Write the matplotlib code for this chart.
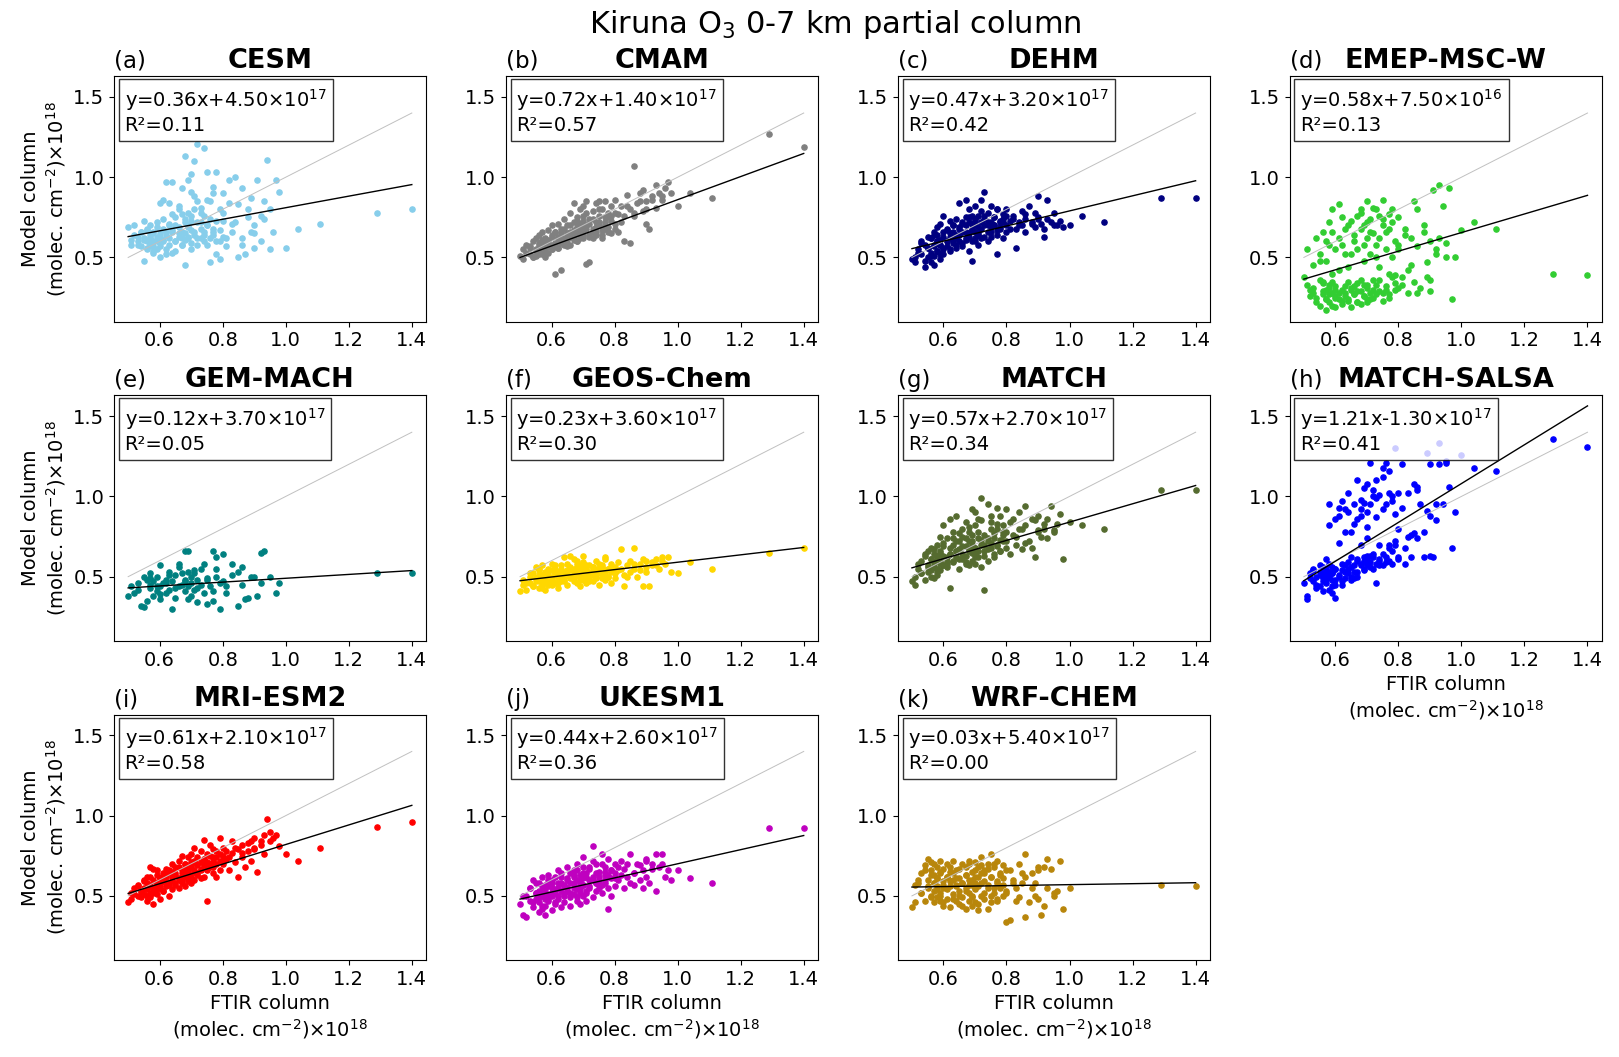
import numpy as np
import matplotlib.pyplot as plt

nan = float("nan")

# FTIR partial columns (x 1e18 molec cm-2), shared by all models
ftir = [
    0.50, 0.51, 0.51, 0.52, 0.53, 0.53, 0.54, 0.54, 0.55, 0.55,
    0.55, 0.56, 0.56, 0.56, 0.57, 0.57, 0.57, 0.57, 0.58, 0.58,
    0.58, 0.58, 0.59, 0.59, 0.59, 0.59, 0.60, 0.60, 0.60, 0.60,
    0.61, 0.61, 0.61, 0.62, 0.62, 0.62, 0.63, 0.63, 0.63, 0.64,
    0.64, 0.64, 0.65, 0.65, 0.65, 0.66, 0.66, 0.66, 0.67, 0.67,
    0.67, 0.67, 0.68, 0.68, 0.68, 0.68, 0.69, 0.69, 0.69, 0.69,
    0.70, 0.70, 0.70, 0.70, 0.70, 0.71, 0.71, 0.71, 0.72, 0.72,
    0.72, 0.73, 0.73, 0.73, 0.74, 0.74, 0.74, 0.75, 0.75, 0.75,
    0.76, 0.76, 0.77, 0.77, 0.77, 0.78, 0.78, 0.79, 0.79, 0.79,
    0.80, 0.80, 0.80, 0.81, 0.82, 0.83, 0.83, 0.84, 0.85, 0.85,
    0.86, 0.86, 0.87, 0.88, 0.89, 0.89, 0.90, 0.90, 0.91, 0.92,
    0.93, 0.93, 0.94, 0.95, 0.96, 0.97, 0.98, 1.00, 1.04, 1.11,
    1.29, 1.40,
    0.52, 0.53, 0.54, 0.55, 0.56, 0.56, 0.57, 0.57, 0.58, 0.58,
    0.59, 0.59, 0.60, 0.60, 0.61, 0.61, 0.62, 0.62, 0.63, 0.63,
    0.64, 0.64, 0.65, 0.65, 0.66, 0.66, 0.67, 0.67, 0.68, 0.68,
    0.69, 0.69, 0.70, 0.70, 0.71, 0.71, 0.72, 0.72, 0.73, 0.73,
    0.74, 0.74, 0.75, 0.75, 0.76, 0.76, 0.77, 0.77, 0.78, 0.78,
    0.79, 0.80, 0.81, 0.82, 0.84, 0.86, 0.88, 0.90, 0.92, 0.95,
]

cesm = [
    0.69, 0.61, 0.58, 0.70, 0.63, 0.60, 0.66, 0.57, 0.48, 0.62,
    0.73, 0.60, 0.55, 0.67, 0.62, 0.58, 0.70, 0.64, 0.53, 0.60,
    0.66, 0.57, 0.63, 0.60, 0.72, 0.55, 0.50, 0.84, 0.65, 0.59,
    0.86, 0.61, 0.68, 0.97, 0.55, 0.64, 0.70, 0.58, 0.84, 0.53,
    0.97, 0.66, 0.60, 0.75, 0.54, 0.80, 0.65, 0.69, 0.77, 0.62,
    0.93, 0.58, 0.72, 0.65, 1.13, 0.45, 0.98, 0.62, 0.78, 0.70,
    0.55, 0.91, 0.67, 0.73, 1.02, 0.64, 0.80, 1.10, 0.58, 0.85,
    1.21, 0.72, 0.62, 0.78, 1.18, 0.66, 0.60, 1.03, 0.86, 0.70,
    0.47, 0.74, 0.90, 0.64, 0.68, 1.03, 0.52, 0.60, 0.80, 0.49,
    0.90, 0.63, 0.73, 0.57, 0.98, 0.71, 0.66, 1.00, 0.50, 0.83,
    0.62, 0.93, 0.52, 0.75, 0.87, 0.66, 0.65, 0.56, 0.98, 0.60,
    0.85, 0.74, 1.11, 0.55, 0.66, 0.98, 0.91, 0.56, 0.68, 0.71,
    0.78, 0.80,
    0.64, 0.58, 0.66, 0.61, 0.56, 0.68, 0.62, 0.59, 0.65, 0.54,
    0.61, 0.69, 0.57, 0.63, 0.74, 0.60, 0.66, 0.52, 0.71, 0.62,
    0.67, 0.77, 0.60, 0.70, 0.63, 0.82, 0.58, 0.66, 0.74, 0.61,
    0.69, 0.63, 0.76, 0.59, 0.88, 0.66, 0.72, 0.62, 0.81, 0.68,
    0.64, 0.76, 0.58, 0.70, 0.85, 0.62, 0.66, 0.94, 0.60, 0.73,
    0.67, 0.78, 0.62, 0.84, 0.72, 0.58, 0.80, 0.70, 0.76, 0.80,
]

cmam = [
    0.51, 0.55, 0.49, 0.58, 0.52, 0.56, 0.60, 0.50, 0.54, 0.62,
    0.51, 0.58, 0.53, 0.64, 0.56, 0.52, 0.60, 0.66, 0.55, 0.59,
    0.50, 0.62, 0.57, 0.53, 0.67, 0.60, 0.55, 0.64, 0.58, 0.70,
    0.59, 0.40, 0.66, 0.63, 0.56, 0.71, 0.60, 0.42, 0.68, 0.62,
    0.58, 0.74, 0.65, 0.61, 0.70, 0.63, 0.78, 0.58, 0.67, 0.72,
    0.84, 0.62, 0.69, 0.75, 0.60, 0.65, 0.71, 0.80, 0.64, 0.68,
    0.73, 0.62, 0.82, 0.67, 0.76, 0.46, 0.70, 0.85, 0.64, 0.74,
    0.47, 0.79, 0.68, 0.62, 0.84, 0.72, 0.66, 0.76, 0.85, 0.70,
    0.64, 0.80, 0.72, 0.68, 0.85, 0.75, 0.69, 0.82, 0.65, 0.76,
    0.71, 0.86, 0.78, 0.66, 0.82, 0.76, 0.60, 0.89, 0.80, 0.59,
    0.78, 1.07, 0.84, 0.90, 0.79, 0.92, 0.71, 0.85, 0.68, 0.88,
    0.95, 0.81, 0.90, 0.86, 0.93, 0.97, 0.90, 0.82, 0.90, 0.87,
    1.27, 1.19,
    0.53, 0.57, 0.50, 0.55, 0.59, 0.52, 0.56, 0.61, 0.54, 0.58,
    0.57, 0.61, 0.55, 0.63, 0.58, 0.66, 0.56, 0.62, 0.59, 0.65,
    0.60, 0.68, 0.62, 0.57, 0.66, 0.70, 0.61, 0.64, 0.73, 0.60,
    0.66, 0.62, 0.70, 0.64, 0.68, 0.78, 0.63, 0.71, 0.66, 0.74,
    0.69, 0.64, 0.72, 0.80, 0.67, 0.62, 0.75, 0.70, 0.66, 0.78,
    0.73, 0.68, 0.77, 0.72, 0.82, 0.76, 0.85, 0.80, 0.86, 0.88,
]

dehm = [
    0.49, 0.50, 0.47, 0.55, 0.60, 0.52, 0.44, 0.58, 0.50, 0.63,
    0.56, 0.47, 0.62, 0.53, 0.45, 0.66, 0.58, 0.51, 0.60, 0.69,
    0.54, 0.64, 0.49, 0.58, 0.71, 0.61, 0.55, 0.66, 0.52, 0.76,
    0.60, 0.68, 0.57, 0.63, 0.73, 0.55, 0.66, 0.61, 0.70, 0.58,
    0.64, 0.74, 0.60, 0.68, 0.84, 0.57, 0.71, 0.66, 0.86, 0.62,
    0.70, 0.75, 0.54, 0.65, 0.72, 0.80, 0.60, 0.68, 0.76, 0.48,
    0.66, 0.73, 0.62, 0.82, 0.70, 0.58, 0.76, 0.64, 0.72, 0.86,
    0.68, 0.74, 0.63, 0.91, 0.70, 0.60, 0.78, 0.66, 0.72, 0.82,
    0.70, 0.75, 0.64, 0.80, 0.52, 0.72, 0.68, 0.77, 0.62, 0.74,
    0.70, 0.80, 0.66, 0.73, 0.76, 0.68, 0.56, 0.72, 0.79, 0.70,
    0.74, 0.66, 0.82, 0.72, 0.78, 0.69, 0.88, 0.74, 0.71, 0.63,
    0.86, 0.74, 0.72, 0.78, 0.70, 0.73, 0.69, 0.70, 0.76, 0.72,
    0.87, 0.87,
    0.53, 0.59, 0.48, 0.56, 0.62, 0.51, 0.57, 0.64, 0.54, 0.60,
    0.58, 0.52, 0.63, 0.56, 0.67, 0.60, 0.54, 0.65, 0.59, 0.70,
    0.62, 0.56, 0.69, 0.64, 0.59, 0.72, 0.66, 0.61, 0.75, 0.63,
    0.67, 0.71, 0.60, 0.74, 0.65, 0.69, 0.79, 0.62, 0.70, 0.76,
    0.66, 0.72, 0.69, 0.63, 0.75, 0.70, 0.80, 0.67, 0.73, 0.69,
    0.72, 0.76, 0.68, 0.74, 0.70, 0.77, 0.71, 0.75, 0.68, 0.70,
]

emep = [
    0.38, 0.33, 0.55, 0.30, 0.28, 0.45, 0.25, 0.62, 0.36, 0.20,
    0.52, 0.27, 0.34, 0.66, 0.17, 0.30, 0.48, 0.24, 0.58, 0.31,
    0.22, 0.72, 0.28, 0.40, 0.35, 0.80, 0.26, 0.55, 0.19, 0.32,
    0.83, 0.24, 0.62, 0.30, 0.75, 0.21, 0.52, 0.28, 0.68, 0.35,
    0.23, 0.44, 0.30, 0.73, 0.19, 0.27, 0.60, 0.32, 0.76, 0.22,
    0.55, 0.29, 0.68, 0.36, 0.21, 0.78, 0.26, 0.48, 0.33, 0.70,
    0.24, 0.62, 0.31, 0.85, 0.22, 0.52, 0.28, 0.74, 0.36, 0.65,
    0.25, 0.80, 0.33, 0.58, 0.29, 0.76, 0.44, 0.23, 0.70, 0.86,
    0.30, 0.66, 0.40, 0.77, 0.27, 0.50, 0.72, 0.34, 0.60, 0.39,
    0.75, 0.31, 0.55, 0.38, 0.68, 0.42, 0.28, 0.62, 0.85, 0.35,
    0.57, 0.80, 0.31, 0.66, 0.47, 0.38, 0.60, 0.29, 0.92, 0.55,
    0.95, 0.62, 0.82, 0.50, 0.93, 0.24, 0.50, 0.67, 0.72, 0.68,
    0.40, 0.39,
    0.26, 0.31, 0.22, 0.48, 0.29, 0.35, 0.24, 0.60, 0.27, 0.33,
    0.20, 0.66, 0.30, 0.25, 0.42, 0.28, 0.23, 0.58, 0.32, 0.26,
    0.70, 0.24, 0.31, 0.52, 0.27, 0.64, 0.22, 0.34, 0.80, 0.29,
    0.26, 0.58, 0.33, 0.72, 0.24, 0.66, 0.30, 0.81, 0.27, 0.50,
    0.36, 0.62, 0.28, 0.74, 0.32, 0.55, 0.25, 0.68, 0.38, 0.80,
    0.30, 0.58, 0.33, 0.64, 0.45, 0.28, 0.70, 0.36, 0.52, 0.59,
]

gem_mach = [
    0.38, nan, 0.44, 0.40, nan, 0.46, nan, 0.32, 0.50, nan,
    0.31, nan, 0.48, nan, 0.43, 0.52, nan, 0.45, nan, 0.38,
    nan, 0.47, 0.41, nan, 0.50, nan, 0.36, nan, 0.44, 0.57,
    nan, 0.46, nan, 0.40, 0.48, nan, 0.42, 0.53, nan, 0.30,
    0.47, nan, 0.51, 0.37, nan, 0.44, nan, 0.56, 0.45, nan,
    0.52, nan, 0.66, 0.41, nan, 0.48, 0.66, nan, 0.53, 0.44,
    nan, 0.50, 0.38, nan, 0.46, 0.52, nan, 0.42, 0.48, nan,
    0.34, nan, 0.55, 0.45, nan, 0.40, nan, 0.49, 0.33, nan,
    0.44, nan, 0.66, 0.35, nan, 0.50, 0.62, nan, 0.46, 0.30,
    0.64, nan, 0.47, 0.40, nan, 0.51, 0.58, nan, 0.53, 0.32,
    0.45, nan, 0.36, 0.37, nan, 0.50, nan, 0.50, 0.38, 0.65,
    nan, 0.66, nan, 0.50, nan, 0.40, 0.46, nan, nan, nan,
    0.52, 0.52,
    nan, 0.42, nan, nan, 0.35, nan, nan, 0.49, nan, nan,
    0.44, nan, nan, 0.39, nan, nan, 0.46, nan, nan, 0.51,
    nan, nan, 0.43, nan, nan, 0.58, nan, nan, 0.47, nan,
    nan, 0.36, nan, nan, 0.54, nan, nan, 0.43, nan, nan,
    0.58, nan, nan, 0.48, nan, nan, 0.41, nan, nan, 0.55,
    nan, nan, 0.44, nan, nan, 0.56, nan, nan, 0.46, nan,
]

geos_chem = [
    0.41, 0.45, 0.48, 0.42, 0.50, 0.46, 0.52, 0.44, 0.49, 0.56,
    0.47, 0.51, 0.43, 0.54, 0.48, 0.57, 0.45, 0.50, 0.52, 0.46,
    0.49, 0.42, 0.53, 0.47, 0.51, 0.55, 0.45, 0.50, 0.58, 0.48,
    0.52, 0.46, 0.55, 0.49, 0.43, 0.53, 0.50, 0.57, 0.47, 0.52,
    0.62, 0.48, 0.54, 0.51, 0.45, 0.56, 0.50, 0.63, 0.53, 0.47,
    0.55, 0.50, 0.58, 0.46, 0.53, 0.60, 0.49, 0.54, 0.44, 0.57,
    0.51, 0.56, 0.48, 0.53, 0.59, 0.50, 0.55, 0.46, 0.52, 0.57,
    0.50, 0.54, 0.47, 0.56, 0.52, 0.60, 0.49, 0.53, 0.45, 0.55,
    0.51, 0.57, 0.48, 0.54, 0.62, 0.50, 0.55, 0.46, 0.53, 0.58,
    0.52, 0.49, 0.56, 0.54, 0.67, 0.51, 0.44, 0.57, 0.53, 0.60,
    0.68, 0.55, 0.50, 0.58, 0.44, 0.61, 0.56, 0.53, 0.44, 0.59,
    0.57, 0.61, 0.55, 0.60, 0.58, 0.62, 0.53, 0.52, 0.59, 0.55,
    0.65, 0.68,
    0.46, 0.52, 0.44, 0.49, 0.55, 0.47, 0.51, 0.43, 0.53, 0.48,
    0.50, 0.45, 0.54, 0.48, 0.52, 0.57, 0.46, 0.51, 0.55, 0.49,
    0.53, 0.47, 0.51, 0.58, 0.49, 0.54, 0.61, 0.50, 0.56, 0.52,
    0.48, 0.55, 0.52, 0.63, 0.50, 0.57, 0.53, 0.47, 0.56, 0.51,
    0.54, 0.50, 0.58, 0.53, 0.49, 0.56, 0.61, 0.52, 0.55, 0.50,
    0.56, 0.53, 0.59, 0.55, 0.50, 0.58, 0.54, 0.60, 0.57, 0.62,
]

match = [
    0.47, 0.50, 0.45, 0.55, 0.60, 0.52, 0.63, 0.48, 0.57, 0.66,
    0.53, 0.61, 0.50, 0.68, 0.56, 0.64, 0.49, 0.59, 0.70, 0.55,
    0.62, 0.51, 0.66, 0.58, 0.75, 0.54, 0.63, 0.57, 0.69, 0.82,
    0.60, 0.74, 0.56, 0.86, 0.64, 0.43, 0.70, 0.59, 0.78, 0.66,
    0.88, 0.62, 0.72, 0.55, 0.67, 0.80, 0.61, 0.75, 0.58, 0.69,
    0.84, 0.63, 0.72, 0.57, 0.78, 0.66, 0.92, 0.60, 0.70, 0.76,
    0.64, 0.82, 0.58, 0.90, 0.68, 0.74, 0.62, 0.86, 0.70, 0.56,
    0.99, 0.42, 0.76, 0.66, 0.95, 0.72, 0.60, 0.84, 0.68, 0.88,
    0.74, 0.62, 0.93, 0.70, 0.80, 0.66, 0.88, 0.72, 0.76, 0.82,
    0.92, 0.68, 0.78, 0.64, 0.86, 0.75, 0.70, 0.90, 0.80, 0.67,
    0.82, 0.94, 0.72, 0.68, 0.85, 0.62, 0.78, 0.88, 0.75, 0.80,
    0.86, 0.74, 0.94, 0.79, 0.83, 0.89, 0.61, 0.84, 0.82, 0.80,
    1.04, 1.04,
    0.58, 0.52, 0.64, 0.56, 0.61, 0.54, 0.67, 0.59, 0.63, 0.53,
    0.60, 0.65, 0.57, 0.71, 0.62, 0.58, 0.68, 0.64, 0.74, 0.60,
    0.66, 0.72, 0.61, 0.77, 0.64, 0.69, 0.59, 0.74, 0.67, 0.81,
    0.65, 0.72, 0.68, 0.62, 0.78, 0.66, 0.73, 0.85, 0.63, 0.70,
    0.74, 0.67, 0.80, 0.71, 0.64, 0.77, 0.69, 0.83, 0.73, 0.66,
    0.78, 0.72, 0.84, 0.76, 0.80, 0.71, 0.86, 0.79, 0.83, 0.78,
]

match_salsa = [
    0.46, 0.36, 0.38, 0.52, 0.47, 0.55, 0.43, 0.50, 0.53, 0.44,
    0.57, 0.49, 0.52, 0.41, 0.55, 0.48, 0.61, 0.46, 0.82, 0.53,
    0.95, 0.50, 0.56, 0.44, 0.52, 0.40, 0.48, 0.86, 0.37, 0.55,
    0.93, 0.51, 0.71, 0.45, 0.58, 0.97, 0.53, 0.78, 0.49, 1.02,
    0.55, 0.90, 0.50, 0.62, 0.78, 0.57, 0.95, 0.49, 1.10, 0.60,
    0.86, 0.53, 0.92, 0.58, 0.70, 0.88, 0.55, 1.05, 0.62, 0.96,
    0.57, 0.81, 1.08, 0.60, 0.74, 1.21, 0.63, 0.95, 0.55, 1.00,
    0.64, 1.10, 0.46, 0.87, 0.60, 1.01, 0.70, 1.18, 0.57, 0.92,
    1.21, 0.62, 1.02, 0.68, 1.16, 0.58, 0.97, 1.30, 0.70, 0.89,
    1.02, 0.61, 0.80, 1.20, 0.58, 0.75, 1.02, 0.62, 1.08, 0.77,
    1.04, 0.74, 0.95, 0.62, 1.27, 0.91, 0.88, 1.20, 0.62, 0.85,
    1.33, 1.20, 0.95, 1.21, 1.06, 0.68, 0.90, 1.26, 1.18, 1.16,
    1.36, 1.31,
    0.49, 0.54, 0.45, 0.51, 0.56, 0.47, 0.53, 0.50, 0.42, 0.58,
    0.52, 0.48, 0.55, 0.45, 0.50, 0.88, 0.54, 0.47, 0.57, 0.92,
    0.52, 0.59, 0.48, 0.56, 0.83, 0.53, 0.61, 0.50, 0.98, 0.57,
    0.60, 0.54, 0.63, 0.90, 0.56, 0.59, 1.04, 0.62, 0.58, 0.99,
    0.61, 0.57, 1.12, 0.64, 0.59, 0.95, 0.70, 0.60, 1.00, 0.66,
    0.72, 0.62, 0.93, 0.68, 0.76, 1.06, 0.78, 0.63, 0.95, 1.22,
]

mri_esm2 = [
    0.46, 0.52, 0.48, 0.55, 0.50, 0.57, 0.53, 0.49, 0.60, 0.51,
    0.55, 0.47, 0.58, 0.62, 0.52, 0.68, 0.49, 0.56, 0.67, 0.53,
    0.60, 0.45, 0.57, 0.63, 0.51, 0.66, 0.55, 0.61, 0.48, 0.58,
    0.64, 0.53, 0.59, 0.67, 0.56, 0.62, 0.50, 0.65, 0.58, 0.70,
    0.54, 0.62, 0.68, 0.57, 0.64, 0.60, 0.72, 0.55, 0.66, 0.62,
    0.75, 0.58, 0.64, 0.70, 0.56, 0.67, 0.61, 0.74, 0.65, 0.59,
    0.68, 0.62, 0.76, 0.58, 0.71, 0.65, 0.80, 0.60, 0.69, 0.74,
    0.63, 0.78, 0.66, 0.71, 0.85, 0.62, 0.73, 0.68, 0.47, 0.76,
    0.70, 0.82, 0.64, 0.74, 0.68, 0.78, 0.62, 0.72, 0.86, 0.66,
    0.75, 0.70, 0.80, 0.73, 0.66, 0.77, 0.84, 0.71, 0.62, 0.79,
    0.74, 0.82, 0.68, 0.78, 0.84, 0.72, 0.80, 0.86, 0.65, 0.82,
    0.88, 0.76, 0.98, 0.84, 0.86, 0.88, 0.81, 0.76, 0.72, 0.80,
    0.93, 0.96,
    0.51, 0.56, 0.53, 0.59, 0.54, 0.50, 0.57, 0.62, 0.55, 0.52,
    0.58, 0.54, 0.61, 0.56, 0.60, 0.53, 0.63, 0.58, 0.66, 0.57,
    0.60, 0.65, 0.58, 0.63, 0.61, 0.68, 0.59, 0.64, 0.62, 0.70,
    0.63, 0.67, 0.61, 0.69, 0.66, 0.72, 0.64, 0.70, 0.67, 0.61,
    0.69, 0.73, 0.66, 0.71, 0.75, 0.68, 0.72, 0.79, 0.70, 0.74,
    0.76, 0.72, 0.78, 0.74, 0.80, 0.77, 0.83, 0.79, 0.84, 0.90,
]

ukesm1 = [
    0.45, 0.38, 0.50, 0.37, 0.55, 0.47, 0.60, 0.43, 0.52, 0.48,
    0.58, 0.40, 0.53, 0.46, 0.62, 0.50, 0.42, 0.56, 0.38, 0.48,
    0.54, 0.44, 0.60, 0.51, 0.47, 0.63, 0.41, 0.55, 0.50, 0.58,
    0.45, 0.62, 0.52, 0.48, 0.66, 0.55, 0.43, 0.58, 0.64, 0.50,
    0.56, 0.46, 0.61, 0.53, 0.68, 0.49, 0.58, 0.44, 0.63, 0.55,
    0.51, 0.66, 0.47, 0.60, 0.54, 0.70, 0.57, 0.45, 0.63, 0.52,
    0.61, 0.68, 0.50, 0.57, 0.74, 0.53, 0.64, 0.47, 0.60, 0.67,
    0.55, 0.81, 0.62, 0.49, 0.58, 0.70, 0.53, 0.65, 0.57, 0.60,
    0.76, 0.52, 0.63, 0.58, 0.68, 0.42, 0.55, 0.66, 0.61, 0.50,
    0.70, 0.56, 0.64, 0.60, 0.72, 0.55, 0.67, 0.62, 0.58, 0.76,
    0.64, 0.57, 0.70, 0.60, 0.66, 0.55, 0.72, 0.62, 0.58, 0.70,
    0.76, 0.53, 0.68, 0.76, 0.62, 0.66, 0.60, 0.66, 0.61, 0.58,
    0.92, 0.92,
    0.50, 0.55, 0.46, 0.52, 0.58, 0.49, 0.53, 0.44, 0.57, 0.51,
    0.48, 0.56, 0.52, 0.60, 0.46, 0.54, 0.58, 0.50, 0.62, 0.53,
    0.57, 0.51, 0.60, 0.55, 0.64, 0.52, 0.58, 0.62, 0.49, 0.66,
    0.59, 0.54, 0.64, 0.57, 0.52, 0.62, 0.68, 0.56, 0.60, 0.72,
    0.58, 0.64, 0.55, 0.62, 0.70, 0.57, 0.65, 0.60, 0.73, 0.63,
    0.66, 0.61, 0.68, 0.63, 0.70, 0.64, 0.69, 0.73, 0.67, 0.70,
]

wrf_chem = [
    0.43, 0.57, 0.46, 0.58, 0.64, 0.52, 0.69, 0.47, 0.60, 0.73,
    0.55, 0.66, 0.50, 0.71, 0.58, 0.46, 0.63, 0.53, 0.68, 0.49,
    0.61, 0.56, 0.72, 0.47, 0.64, 0.52, 0.59, 0.67, 0.44, 0.55,
    0.62, 0.48, 0.70, 0.56, 0.43, 0.65, 0.51, 0.60, 0.72, 0.47,
    0.57, 0.66, 0.45, 0.61, 0.53, 0.70, 0.49, 0.58, 0.42, 0.63,
    0.55, 0.68, 0.47, 0.60, 0.52, 0.72, 0.44, 0.57, 0.65, 0.50,
    0.71, 0.54, 0.46, 0.62, 0.58, 0.68, 0.41, 0.56, 0.50, 0.64,
    0.74, 0.48, 0.59, 0.66, 0.42, 0.55, 0.70, 0.62, 0.46, 0.76,
    0.52, 0.68, 0.58, 0.47, 0.72, 0.55, 0.63, 0.50, 0.69, 0.57,
    0.34, 0.66, 0.52, 0.35, 0.60, 0.55, 0.47, 0.70, 0.58, 0.64,
    0.76, 0.37, 0.46, 0.64, 0.50, 0.58, 0.66, 0.48, 0.38, 0.68,
    0.73, 0.55, 0.67, 0.50, 0.53, 0.72, 0.42, 0.55, nan, nan,
    0.57, 0.56,
    0.60, 0.52, 0.66, 0.56, 0.49, 0.63, 0.58, 0.70, 0.54, 0.61,
    0.50, 0.65, 0.57, 0.46, 0.62, 0.54, 0.68, 0.59, 0.48, 0.64,
    0.56, 0.61, 0.50, 0.67, 0.58, 0.44, 0.63, 0.53, 0.70, 0.57,
    0.60, 0.49, 0.66, 0.55, 0.62, 0.45, 0.58, 0.69, 0.52, 0.64,
    0.57, 0.67, 0.50, 0.62, 0.55, 0.70, 0.59, 0.48, 0.64, 0.56,
    0.61, 0.53, 0.66, 0.58, 0.49, 0.62, 0.55, 0.68, 0.44, 0.52,
]

models = ["CESM", "CMAM", "DEHM", "EMEP-MSC-W", "GEM-MACH", "GEOS-Chem",
          "MATCH", "MATCH-SALSA", "MRI-ESM2", "UKESM1", "WRF-CHEM"]
model_cols = [cesm, cmam, dehm, emep, gem_mach, geos_chem,
              match, match_salsa, mri_esm2, ukesm1, wrf_chem]
letters = ["a", "b", "c", "d", "e", "f", "g", "h", "i", "j", "k"]
colors = ["skyblue", "gray", "navy", "limegreen", "teal", "gold",
          "darkolivegreen", "blue", "red", "m", "darkgoldenrod"]

# regression results printed in the panels
slopes = [0.36, 0.72, 0.47, 0.58, 0.12, 0.23, 0.57, 1.21, 0.61, 0.44, 0.03]
intercepts = [4.5e17, 1.4e17, 3.2e17, 7.5e16, 3.7e17, 3.6e17,
              2.7e17, -1.3e17, 2.1e17, 2.6e17, 5.4e17]
r2 = [0.11, 0.57, 0.42, 0.13, 0.05, 0.30, 0.34, 0.41, 0.58, 0.36, 0.00]

unit_label = "(molec. cm$^{-2}$)×10$^{18}$"

fig, axes = plt.subplots(3, 4, figsize=(16.19, 10.57), dpi=100)
plt.subplots_adjust(left=0.0704, right=0.9893, top=0.928, bottom=0.0917,
                    wspace=0.256, hspace=0.30)

x = np.array(ftir)

for i, name in enumerate(models):
    ax = axes.flat[i]
    y = np.array(model_cols[i])
    ok = ~np.isnan(y)

    ax.scatter(x[ok], y[ok], s=14, color=colors[i], zorder=2)

    xl = np.array([x[ok].min(), x[ok].max()])
    ax.plot(xl, xl, color="#c0c0c0", lw=0.7, zorder=3)
    ax.plot(xl, slopes[i] * xl + intercepts[i] / 1e18, color="black", lw=1, zorder=3)

    b = intercepts[i]
    ex = int(np.floor(np.log10(abs(b))))
    mant = b / 10**ex
    sign = "+" if mant >= 0 else "-"
    txt = f"y={slopes[i]:.2f}x{sign}{abs(mant):.2f}×10$^{{{ex}}}$\nR\u00b2={r2[i]:.2f}"
    ax.text(0.034, 0.955, txt, transform=ax.transAxes, fontsize=14, va="top", ha="left",
            zorder=5, bbox=dict(boxstyle="square,pad=0.3", facecolor="white",
                                edgecolor="black", alpha=0.8))

    ax.set_title(name, fontsize=19.5, fontweight="bold")
    ax.set_title(f"({letters[i]})", loc="left", fontsize=16.5)

    ax.set_ylim(0.10, 1.63)
    ax.set_xticks([0.6, 0.8, 1.0, 1.2, 1.4])
    ax.set_yticks([0.5, 1.0, 1.5])
    ax.tick_params(labelsize=14)

    if i % 4 == 0:
        ax.set_ylabel("Model column\n" + unit_label, fontsize=14)
    if i >= 7:
        ax.set_xlabel("FTIR column\n" + unit_label, fontsize=14)

axes.flat[11].remove()

fig.text(0.516, 0.977, "Kiruna O$_3$ 0-7 km partial column", ha="center", va="center",
         fontsize=22)

plt.savefig("out.png", dpi=100)
